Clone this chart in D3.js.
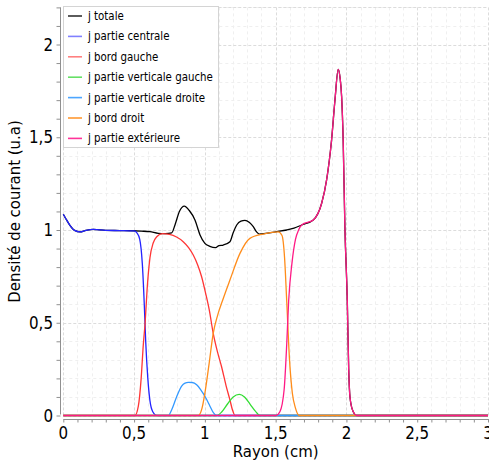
<!DOCTYPE html>
<html><head><meta charset="utf-8">
<script src="https://cdn.jsdelivr.net/npm/d3@7"></script>
<style>
html,body{margin:0;padding:0;background:#fff;}
svg{display:block;}
</style></head>
<body>
<svg id="chart" width="489" height="465"></svg>
<script>
// ---------- data ----------
const seriesNames = ["j totale","j partie centrale","j bord gauche","j partie verticale gauche","j partie verticale droite","j bord droit","j partie extérieure"];
const seriesColors = ["#000000","#2323ff","#ff3535","#33dd33","#3399ff","#ff8c1a","#ff1a85"];
const legendColors = ["#333333","#8080ff","#ff8080","#66e066","#4da6ff","#ff9933","#ff3399"];

const jTotale = [[0,1.085],[0.02,1.058],[0.047,1.025],[0.08,0.998],[0.118,0.99],[0.16,0.998],[0.212,1.003],[0.3,0.998],[0.4,0.997],[0.494,0.996],[0.55,0.994],[0.612,0.991],[0.671,0.982],[0.72,0.981],[0.766,0.985],[0.79,1.03],[0.82,1.1],[0.855,1.129],[0.89,1.105],[0.93,1.054],[0.965,0.975],[1.0,0.928],[1.035,0.912],[1.076,0.905],[1.1,0.916],[1.13,0.919],[1.177,0.937],[1.2,0.985],[1.225,1.027],[1.255,1.048],[1.283,1.052],[1.315,1.04],[1.342,1.018],[1.365,0.99],[1.384,0.978],[1.43,0.982],[1.507,0.991],[1.578,1.0],[1.63,1.01],[1.684,1.027],[1.766,1.054],[1.825,1.144],[1.86,1.27],[1.895,1.485],[1.919,1.701],[1.942,1.866],[1.955,1.82],[1.966,1.72],[1.977,1.485],[1.989,1.018],[2.006,0.62],[2.016,0.25],[2.025,0.1],[2.045,0.025],[2.072,0],[3,0]];
const jCentrale = [[0,1.085],[0.02,1.058],[0.047,1.025],[0.08,0.998],[0.118,0.99],[0.16,0.998],[0.212,1.003],[0.3,0.998],[0.4,0.997],[0.5,0.995],[0.52,0.985],[0.54,0.95],[0.558,0.82],[0.572,0.6],[0.582,0.4],[0.597,0.2],[0.612,0.08],[0.632,0.02],[0.66,0],[3,0]];
const jBordGauche = [[0,0],[0.506,0],[0.53,0.05],[0.55,0.2],[0.565,0.38],[0.578,0.5],[0.592,0.68],[0.612,0.85],[0.635,0.93],[0.66,0.964],[0.7,0.98],[0.75,0.976],[0.8,0.962],[0.847,0.937],[0.885,0.905],[0.918,0.865],[0.95,0.81],[0.977,0.748],[1.005,0.66],[1.031,0.569],[1.059,0.443],[1.09,0.34],[1.118,0.263],[1.15,0.16],[1.177,0.084],[1.195,0.03],[1.213,0],[3,0]];
const jVertGauche = [[0,0],[1.083,0],[1.12,0.02],[1.16,0.062],[1.2,0.1],[1.243,0.114],[1.28,0.1],[1.32,0.06],[1.355,0.025],[1.389,0],[3,0]];
const jVertDroite = [[0,0],[0.742,0],[0.765,0.03],[0.8,0.1],[0.836,0.159],[0.86,0.175],[0.883,0.179],[0.91,0.178],[0.942,0.166],[0.97,0.14],[0.989,0.118],[1.01,0.09],[1.036,0.05],[1.06,0.015],[1.083,0],[3,0]];
const jBordDroit = [[0,0],[0.953,0],[0.98,0.04],[1.0,0.12],[1.03,0.28],[1.059,0.443],[1.09,0.54],[1.125,0.62],[1.177,0.73],[1.248,0.874],[1.318,0.955],[1.412,0.978],[1.518,0.99],[1.545,0.97],[1.563,0.85],[1.578,0.62],[1.598,0.3],[1.618,0.12],[1.64,0.04],[1.667,0],[3,0]];
const jExterieure = [[0,0],[1.502,0],[1.53,0.02],[1.56,0.14],[1.578,0.38],[1.592,0.62],[1.615,0.82],[1.64,0.95],[1.662,1.0],[1.684,1.027],[1.766,1.054],[1.825,1.144],[1.86,1.27],[1.895,1.485],[1.919,1.701],[1.942,1.866],[1.955,1.82],[1.966,1.72],[1.977,1.485],[1.989,1.018],[2.006,0.62],[2.016,0.25],[2.025,0.1],[2.045,0.025],[2.072,0],[3,0]];
const allSeries = [jTotale,jCentrale,jBordGauche,jVertGauche,jVertDroite,jBordDroit,jExterieure];

const xTickValues = [0,0.5,1,1.5,2,2.5,3];
const xTickLabels = ["0","0,5","1","1,5","2","2,5","3"];
const yTickValues = [0,0.5,1,1.5,2];
const yTickLabels = ["0","0,5","1","1,5","2"];
const xTitle = "Rayon (cm)";
const yTitle = "Densité de courant (u.a)";

// ---------- layout ----------
const FONT = "'DejaVu Sans Condensed','DejaVu Sans',sans-serif";
const svg = d3.select("#chart");
const x = d3.scaleLinear().domain([0,3]).range([63.3,488]);
const y = d3.scaleLinear().domain([0,2.2]).range([415.5,7.4]);

function fitSize(text, target, base){
  const t = svg.append("text").attr("font-family",FONT).attr("font-size",base).text(text);
  const w = t.node().getComputedTextLength();
  t.remove();
  return base*target/w;
}
const tickSize = fitSize("0,5",24,15);
const titleSize = (fitSize(xTitle,86,15)+fitSize(yTitle,182,15))/2;
const legendSize = fitSize("j partie verticale gauche",125,12);

// grid
const grid = svg.append("g");
const minorX = d3.range(0,31).map(i=>i/10);
const minorY = d3.range(0,23).map(i=>i/10);
grid.selectAll(".mx").data(minorX.filter(v=>Math.abs(v*2-Math.round(v*2))>1e-6)).join("line")
  .attr("x1",d=>Math.round(x(d))+0.5).attr("x2",d=>Math.round(x(d))+0.5)
  .attr("y1",y(2.2)).attr("y2",y(0))
  .attr("stroke","#efefef").attr("stroke-dasharray","3,3");
grid.selectAll(".my").data(minorY.filter(v=>Math.abs(v*2-Math.round(v*2))>1e-6)).join("line")
  .attr("y1",d=>Math.round(y(d))+0.5).attr("y2",d=>Math.round(y(d))+0.5)
  .attr("x1",x(0)).attr("x2",x(3))
  .attr("stroke","#efefef").attr("stroke-dasharray","3,3");
grid.selectAll(".Mx").data(xTickValues).join("line")
  .attr("x1",d=>Math.round(x(d))+0.5).attr("x2",d=>Math.round(x(d))+0.5)
  .attr("y1",y(2.2)).attr("y2",y(0))
  .attr("stroke","#dcdcdc").attr("stroke-dasharray","3,2");
grid.selectAll(".My").data(yTickValues.concat([2.2])).join("line")
  .attr("y1",d=>Math.round(y(d))+0.5).attr("y2",d=>Math.round(y(d))+0.5)
  .attr("x1",x(0)).attr("x2",x(3))
  .attr("stroke","#dcdcdc").attr("stroke-dasharray","3,2");

// axes
const xAxisG = svg.append("g").attr("transform","translate(0,419.5)");
xAxisG.call(d3.axisBottom(x).tickValues(minorX).tickSize(3).tickFormat(""));
xAxisG.select(".domain").attr("stroke","#909090").attr("d",`M${x(0)},0H489`);
xAxisG.selectAll(".tick line").attr("stroke","#909090");
xAxisG.append("g").selectAll("text").data(xTickValues).join("text")
  .attr("x",d=>x(d)).attr("y",19).attr("text-anchor","middle")
  .attr("font-family",FONT).attr("font-size",tickSize).attr("fill","#000")
  .text((d,i)=>xTickLabels[i]);

const yAxisG = svg.append("g").attr("transform","translate(60.5,0)");
yAxisG.call(d3.axisLeft(y).tickValues(minorY).tickSize(4).tickFormat(""));
yAxisG.select(".domain").attr("stroke","#909090").attr("d",`M0,${y(2.2)}V${y(0)-1}`);
yAxisG.selectAll(".tick line").attr("stroke","#909090");
yAxisG.append("g").selectAll("text").data(yTickValues).join("text")
  .attr("x",-7.5).attr("y",d=>y(d)).attr("dy","0.36em").attr("text-anchor","end")
  .attr("font-family",FONT).attr("font-size",tickSize).attr("fill","#000")
  .text((d,i)=>yTickLabels[i]);

// titles
svg.append("text").attr("x",(x(0)+x(3))/2).attr("y",456.5).attr("text-anchor","middle")
  .attr("font-family",FONT).attr("font-size",titleSize).text(xTitle);
svg.append("text").attr("transform",`translate(20,${(y(0)+y(2.2))/2}) rotate(-90)`).attr("text-anchor","middle")
  .attr("font-family",FONT).attr("font-size",titleSize).text(yTitle);

// lines
const line = d3.line().x(d=>x(d[0])).y(d=>y(d[1])).curve(d3.curveMonotoneX);
svg.append("g").selectAll("path").data(allSeries).join("path")
  .attr("d",line).attr("fill","none")
  .attr("stroke",(d,i)=>seriesColors[i]).attr("stroke-width",1.3)
  .attr("stroke-linejoin","round");

// legend
const lg = svg.append("g");
lg.append("rect").attr("x",63.5).attr("y",6.5).attr("width",155).attr("height",141)
  .attr("fill","#fff").attr("stroke","#d4d4d4");
const rows = lg.selectAll(".row").data(seriesNames).join("g")
  .attr("transform",(d,i)=>`translate(0,${16+i*20.4})`);
rows.append("line").attr("x1",68).attr("x2",82).attr("y1",0).attr("y2",0)
  .attr("stroke",(d,i)=>legendColors[i]).attr("stroke-width",1.6);
rows.append("text").attr("x",88).attr("y",0).attr("dy","0.35em")
  .attr("font-family",FONT).attr("font-size",legendSize).attr("fill","#000").text(d=>d);
</script>
</body></html>
